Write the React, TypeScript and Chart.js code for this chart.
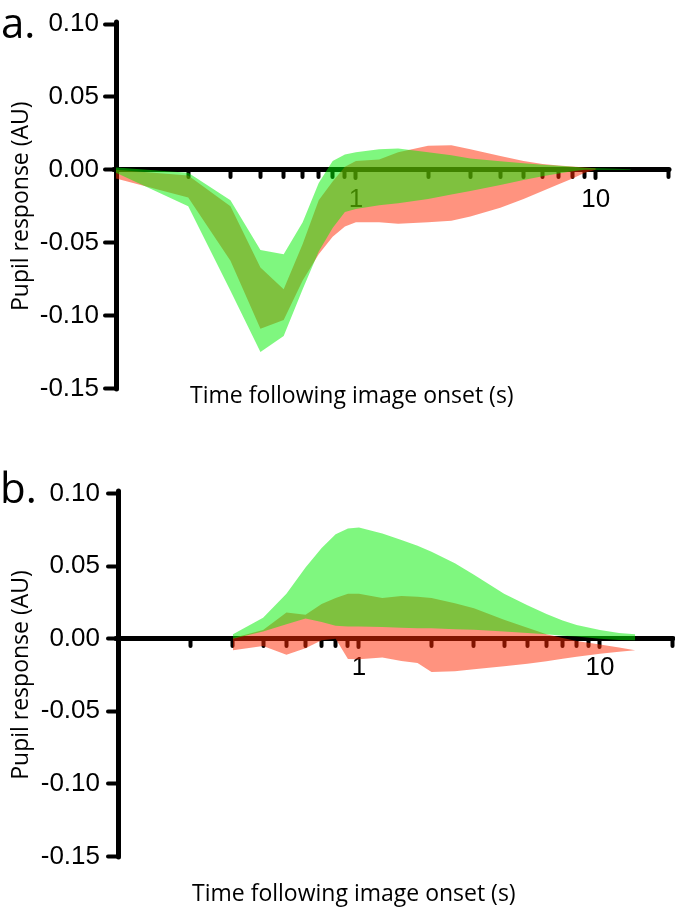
import React, { useEffect, useRef } from 'react';
import { Chart, registerables } from 'chart.js';

Chart.register(...registerables);

// ---------- shared axis data ----------
const X_MINOR_TICKS = [0.2, 0.3, 0.4, 0.5, 0.6, 0.7, 0.8, 0.9, 2, 3, 4, 5, 6, 7, 8, 9, 20];
const X_MAJOR_TICKS = [1, 10];
const X_MAJOR_LABELS = ['1', '10'];
const Y_TICKS = [-0.15, -0.1, -0.05, 0, 0.05, 0.1];

// ---------- panel a ----------
const aGreenTimes = [0.1, 0.2, 0.3, 0.4, 0.5, 0.6, 0.7, 0.8, 0.9, 1.0, 1.25, 1.5, 2, 2.5, 3, 4, 5, 6, 7, 8, 9, 10, 12, 14];
const aGreenUpper = [0.0015, -0.002, -0.021, -0.055, -0.058, -0.036, -0.009, 0.006, 0.0105, 0.012, 0.014, 0.0145, 0.012, 0.010, 0.0078, 0.0058, 0.0044, 0.0035, 0.0027, 0.002, 0.0014, 0.001, 0.0007, 0.0003];
const aGreenLower = [-0.002, -0.025, -0.083, -0.125, -0.114, -0.082, -0.056, -0.040, -0.029, -0.027, -0.0243, -0.023, -0.020, -0.017, -0.0145, -0.0105, -0.007, -0.0045, -0.0025, -0.001, 0, 0, 0, 0];

const aRedTimes = [0.1, 0.2, 0.3, 0.4, 0.5, 0.6, 0.7, 0.8, 0.9, 1.0, 1.25, 1.5, 2, 2.5, 3, 4, 5, 6, 7, 8, 9, 10];
const aRedUpper = [0.0, -0.004, -0.025, -0.067, -0.082, -0.051, -0.021, -0.008, 0.002, 0.006, 0.007, 0.012, 0.0165, 0.0168, 0.014, 0.0095, 0.006, 0.004, 0.003, 0.0022, 0.0015, 0.001];
const aRedLower = [-0.006, -0.019, -0.0625, -0.109, -0.103, -0.076, -0.058, -0.046, -0.039, -0.036, -0.036, -0.037, -0.036, -0.035, -0.032, -0.026, -0.020, -0.0145, -0.010, -0.006, -0.002, 0.0];

// ---------- panel b ----------
const bGreenTimes = [0.3, 0.4, 0.5, 0.6, 0.7, 0.8, 0.9, 1.0, 1.25, 1.5, 1.75, 2, 2.5, 3, 4, 5, 6, 7, 8, 10, 12, 14];
const bGreenUpper = [0.003, 0.0144, 0.031, 0.049, 0.0625, 0.072, 0.076, 0.0766, 0.0725, 0.068, 0.064, 0.060, 0.052, 0.044, 0.031, 0.023, 0.017, 0.0125, 0.0095, 0.006, 0.004, 0.003];
const bGreenLower = [0.0, 0.005, 0.0099, 0.014, 0.0115, 0.009, 0.0085, 0.0084, 0.008, 0.0076, 0.0073, 0.0072, 0.0066, 0.0062, 0.005, 0.004, 0.003, 0.002, 0.0015, 0.0, -0.0008, -0.001];

const bRedTimes = [0.3, 0.4, 0.5, 0.6, 0.7, 0.8, 0.9, 1.0, 1.25, 1.5, 1.75, 2, 2.5, 3, 4, 5, 6, 7, 8, 10, 12, 14];
const bRedUpper = [0.0005, 0.006, 0.018, 0.0165, 0.024, 0.028, 0.031, 0.031, 0.028, 0.0295, 0.029, 0.028, 0.0245, 0.021, 0.013, 0.0075, 0.003, 0.0005, -0.0015, -0.004, -0.006, -0.008];
const bRedLower = [-0.008, -0.005, -0.011, -0.0065, -0.001, 0.0, -0.014, -0.0142, -0.013, -0.0153, -0.0168, -0.023, -0.0225, -0.021, -0.019, -0.0172, -0.0155, -0.0138, -0.0125, -0.0104, -0.009, -0.008];

const GREEN = 'rgba(0, 240, 0, 0.5)';
const RED = 'rgba(255, 40, 0, 0.5)';
const TICK_FONT = { family: '"Liberation Sans", Arial, sans-serif', size: 26 };
const TITLE_FONT = '"Open Sans", sans-serif';

const toXY = (xs: number[], ys: number[]) => xs.map((x, i) => ({ x, y: ys[i] }));

const band = (xs: number[], lower: number[], upper: number[], color: string) => [
  {
    data: toXY(xs, lower),
    fill: false,
    borderWidth: 0,
    borderColor: 'rgba(0,0,0,0)',
    pointRadius: 0,
  },
  {
    data: toXY(xs, upper),
    fill: '-1',
    backgroundColor: color,
    borderWidth: 0,
    borderColor: 'rgba(0,0,0,0)',
    pointRadius: 0,
  },
];

const roundCaps = {
  id: 'roundCaps',
  beforeDraw(chart: any) {
    chart.ctx.lineCap = 'round';
  },
};

type Geo = { axisLeft: number; padTop: number; padBottom: number; padRight: number; yTickLen: number; yTickPad: number };

function makeConfig(datasets: any[], geo: Geo): any {
  return {
    type: 'line',
    data: { datasets },
    plugins: [roundCaps],
    options: {
      animation: false,
      responsive: false,
      events: [],
      layout: { padding: { left: 0, top: geo.padTop, right: geo.padRight, bottom: geo.padBottom } },
      plugins: { legend: { display: false }, tooltip: { enabled: false }, title: { display: false } },
      elements: { line: { tension: 0 } },
      scales: {
        x: {
          type: 'logarithmic',
          min: 0.1,
          max: 20,
          position: { y: 0 },
          afterBuildTicks: (ax: any) => {
            ax.ticks = X_MINOR_TICKS.map((v) => ({ value: v }));
          },
          ticks: { display: false },
          grid: { drawOnChartArea: false, drawTicks: true, tickLength: 5, tickWidth: 4, tickColor: '#000', color: '#000' },
          border: { display: true, width: 5, color: '#000' },
        },
        x2: {
          type: 'logarithmic',
          axis: 'x',
          min: 0.1,
          max: 20,
          position: { y: 0 },
          afterBuildTicks: (ax: any) => {
            ax.ticks = X_MAJOR_TICKS.map((v) => ({ value: v }));
          },
          ticks: {
            display: true,
            autoSkip: false,
            maxRotation: 0,
            minRotation: 0,
            padding: 6,
            color: '#000',
            font: TICK_FONT,
            callback: (v: number) => X_MAJOR_LABELS[X_MAJOR_TICKS.indexOf(v)] ?? '',
          },
          grid: { drawOnChartArea: false, drawTicks: true, tickLength: 8, tickWidth: 4, tickColor: '#000', color: '#000' },
          border: { display: false },
        },
        y: {
          type: 'linear',
          min: -0.15,
          max: 0.1,
          position: 'left',
          afterBuildTicks: (ax: any) => {
            ax.ticks = Y_TICKS.map((v) => ({ value: v }));
          },
          afterFit: (s: any) => {
            s.width = geo.axisLeft;
          },
          ticks: {
            padding: geo.yTickPad,
            color: '#000',
            font: TICK_FONT,
            callback: (v: number) => v.toFixed(2),
          },
          grid: { drawOnChartArea: false, drawTicks: true, tickLength: geo.yTickLen, tickWidth: 4, tickColor: '#000', color: '#000' },
          border: { display: true, width: 5, color: '#000' },
          title: {
            display: true,
            text: 'Pupil response (AU)',
            color: '#000',
            font: { family: TITLE_FONT, size: 23 },
            padding: { top: 8, bottom: 0 },
          },
        },
      },
    },
  };
}

function Panel({ top, height, datasets, geo }: { top: number; height: number; datasets: any[]; geo: Geo }) {
  const ref = useRef<HTMLCanvasElement>(null);
  useEffect(() => {
    const chart = new Chart(ref.current as HTMLCanvasElement, makeConfig(datasets, geo));
    return () => chart.destroy();
  }, []);
  return (
    <canvas
      ref={ref}
      width={675}
      height={height}
      style={{ position: 'absolute', left: 0, top, width: 675, height }}
    />
  );
}

const textStyle = (left: number, top: number, size: number): React.CSSProperties => ({
  position: 'absolute',
  left,
  top,
  fontFamily: TITLE_FONT,
  fontSize: size,
  lineHeight: `${size}px`,
  whiteSpace: 'nowrap',
  color: '#000',
  margin: 0,
});

export default function App() {
  const dsA = [
    ...band(aGreenTimes, aGreenLower, aGreenUpper, GREEN),
    ...band(aRedTimes, aRedLower, aRedUpper, RED),
  ];
  const dsB = [
    ...band(bGreenTimes, bGreenLower, bGreenUpper, GREEN),
    ...band(bRedTimes, bRedLower, bRedUpper, RED),
  ];
  return (
    <div style={{ position: 'absolute', left: 0, top: 0, width: 675, height: 912, background: '#fff', overflow: 'hidden' }}>
      <Panel
        top={0}
        height={410}
        datasets={dsA}
        geo={{ axisLeft: 116, padTop: 24, padBottom: 16, padRight: 7, yTickLen: 11, yTickPad: 6 }}
      />
      <Panel
        top={470}
        height={410}
        datasets={dsB}
        geo={{ axisLeft: 118, padTop: 22.5, padBottom: 18, padRight: 2.5, yTickLen: 10, yTickPad: 8 }}
      />
      <div style={textStyle(1, 1, 42)}>a.</div>
      <div style={textStyle(0, 466, 42)}>b.</div>
      <div style={textStyle(190, 382.7, 23)}>Time following image onset (s)</div>
      <div style={textStyle(192, 881, 23)}>Time following image onset (s)</div>
    </div>
  );
}
